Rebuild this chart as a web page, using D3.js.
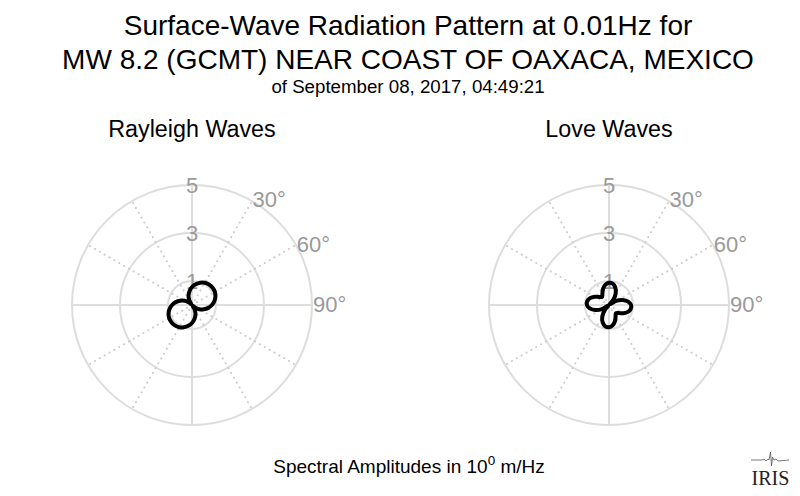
<!DOCTYPE html>
<html><head><meta charset="utf-8">
<script src="https://cdn.jsdelivr.net/npm/d3@7"></script>
<style>body{margin:0;background:#fff}svg{display:block;font-family:"Liberation Sans",Arial,Helvetica,sans-serif}</style>
</head><body><svg id="c" width="800" height="496"></svg>
<script>
// ---- data (amplitudes in 10^0 m/Hz, azimuth in degrees clockwise from north)
const azimuths = [0,10,20,30,40,50,60,70,80,90,100,110,120,130,140,150,160,170,
                  180,190,200,210,220,230,240,250,260,270,280,290,300,310,320,330,340,350];
const rayleighAmp = [0.75,0.88,0.99,1.07,1.11,1.12,1.10,1.04,0.95,0.83,0.69,0.53,0.35,0.16,0.04,0.23,0.42,0.59,
                     0.75,0.88,0.99,1.07,1.11,1.12,1.10,1.04,0.95,0.83,0.69,0.53,0.35,0.16,0.04,0.23,0.42,0.59];
const loveAmp = [0.93,0.90,0.77,0.56,0.28,0.03,0.34,0.61,0.81,0.92,0.92,0.84,0.69,0.52,0.45,0.55,0.72,0.86,
                 0.93,0.90,0.77,0.56,0.28,0.03,0.34,0.61,0.81,0.92,0.92,0.84,0.69,0.52,0.45,0.55,0.72,0.86];
const panelTitles = ["Rayleigh Waves", "Love Waves"];
const radialTicks = [1, 3, 5];
const solidSpokes = [0, 90, 180, 270];
const dottedSpokes = [30, 60, 120, 150, 210, 240, 300, 330];
const angleLabels = [30, 60, 90];
const titleLines = ["Surface-Wave Radiation Pattern at 0.01Hz for",
                    "MW 8.2 (GCMT) NEAR COAST OF OAXACA, MEXICO"];
const subTitle = "of September 08, 2017, 04:49:21";

// ---- drawing
const svg = d3.select("#c");
const rad = d => d * Math.PI / 180;
const r = d3.scaleLinear().domain([0, 5]).range([0, 120]);
const gridColor = "#dddddd", labelColor = "#999999";

svg.append("g").selectAll("text").data(titleLines).join("text")
  .attr("x", 408).attr("y", (d, i) => 35 + i * 34)
  .attr("text-anchor", "middle").attr("font-size", 28).attr("fill", "#000").text(d => d);
svg.append("text").attr("x", 408).attr("y", 92.5).attr("text-anchor", "middle")
  .attr("font-size", 18.7).text(subTitle);

const panels = [
  {cx: 192, cy: 305, values: rayleighAmp, title: panelTitles[0]},
  {cx: 609, cy: 305, values: loveAmp, title: panelTitles[1]}
];

panels.forEach(p => {
  const g = svg.append("g").attr("transform", `translate(${p.cx},${p.cy})`);
  svg.append("text").attr("x", p.cx).attr("y", 137).attr("text-anchor", "middle")
    .attr("font-size", 23.3).text(p.title);

  g.selectAll("circle.grid").data(radialTicks).join("circle")
    .attr("r", d => r(d)).attr("fill", "none").attr("stroke", gridColor).attr("stroke-width", 2);
  g.selectAll("line.solid").data(solidSpokes).join("line")
    .attr("x1", 0).attr("y1", 0)
    .attr("x2", d => r(5) * Math.sin(rad(d))).attr("y2", d => -r(5) * Math.cos(rad(d)))
    .attr("stroke", gridColor).attr("stroke-width", 2);
  g.selectAll("line.dot").data(dottedSpokes).join("line")
    .attr("x1", 0).attr("y1", 0)
    .attr("x2", d => r(5) * Math.sin(rad(d))).attr("y2", d => -r(5) * Math.cos(rad(d)))
    .attr("stroke", "#cccccc").attr("stroke-width", 2)
    .attr("stroke-dasharray", "0.1,5.5").attr("stroke-linecap", "round");

  g.selectAll("text.rt").data(radialTicks).join("text")
    .attr("x", 0).attr("y", d => -r(d)).attr("dy", "0.35em")
    .attr("text-anchor", "middle").attr("font-size", 22).attr("fill", labelColor).text(d => d);
  g.selectAll("text.at").data(angleLabels).join("text")
    .attr("x", d => 121 * Math.sin(rad(d))).attr("y", d => -121 * Math.cos(rad(d))).attr("dy", "0.33em")
    .attr("text-anchor", "start").attr("font-size", 22).attr("fill", labelColor).text(d => d + "°");

  const line = d3.lineRadial()
    .angle((d, i) => rad(azimuths[i])).radius(d => r(d))
    .curve(d3.curveCatmullRomClosed);
  g.append("path").attr("d", line(p.values)).attr("fill", "none")
    .attr("stroke", "#000").attr("stroke-width", 4).attr("stroke-linejoin", "round");
});

const foot = svg.append("text").attr("x", 409).attr("y", 473).attr("text-anchor", "middle")
  .attr("font-size", 19);
foot.append("tspan").text("Spectral Amplitudes in 10");
foot.append("tspan").attr("dy", -8).attr("font-size", 13.5).text("0");
foot.append("tspan").attr("dy", 8).text(" m/Hz");

// IRIS mark
const logo = svg.append("g").attr("transform", "translate(751,450)");
logo.append("path")
  .attr("d", "M0,10 L11,10 L13,9 L15,11 L17,9 L18,10 L19.5,2 L20.5,16 L21.5,7 L23,10 L25,9 L27,11 L38,10")
  .attr("fill", "none").attr("stroke", "#555").attr("stroke-width", 0.8);
logo.append("text").attr("x", 19.5).attr("y", 35).attr("text-anchor", "middle")
  .attr("font-family", "'Liberation Serif','Times New Roman',serif").attr("font-size", 20)
  .attr("fill", "#222").text("IRIS");
</script></body></html>
